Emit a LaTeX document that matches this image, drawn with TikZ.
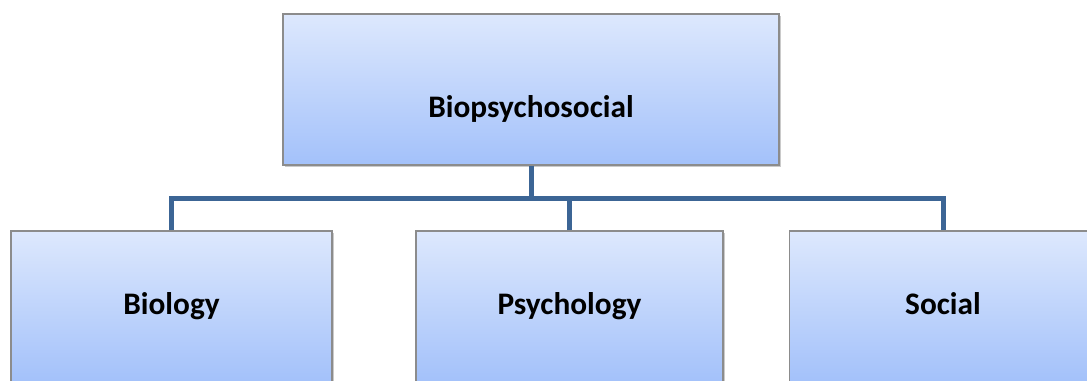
\documentclass[tikz,border=0pt]{standalone}
\usepackage{fontspec}
\setmainfont{Carlito}
\usetikzlibrary{positioning, shadows}
\definecolor{ctop}{HTML}{DDE8FD}
\definecolor{cbottom}{HTML}{A3C1FA}
\definecolor{cedge}{HTML}{8C8C8C}
\definecolor{clink}{HTML}{3C6595}
\tikzset{
  every picture/.style={font=\fontsize{23.5}{28}\selectfont\bfseries},
  box/.style={draw=cedge, line width=1pt, top color=ctop, bottom color=cbottom, inner sep=0pt,
    minimum width=#1, minimum height=113.25pt, text height=15pt, text depth=3pt,
    drop shadow={shadow xshift=1.6pt, shadow yshift=-1.6pt, opacity=0.35, fill=black!60}},
  box/.default=230pt,
  link/.style={draw=clink, line width=3.75pt, line join=miter},
}
\begin{document}
\begin{tikzpicture}[x=0.75pt, y=-0.75pt]
  \useasboundingbox (0,0) rectangle (1087,380);
  \clip (0,0) rectangle (1087,380);
  \node[box=372pt, text height=45pt] (bps) at (531,89.5) {Biopsychosocial};
  \node[box=240.75pt] (bio) at (171.5,306.5) {Biology};
  \node[box=230.25pt] (psy) at (569.5,306.5) {Psychology};
  \node[box=230.25pt] (soc) at (943,306.5) {Social};
  \coordinate (bus) at (0,198);
  \draw[link] (bps.south) -- (bps.south |- bus);
  \draw[link] (bio.north) |- (bus -| soc.north) -- (soc.north);
  \draw[link] (psy.north) -- (psy.north |- bus);
\end{tikzpicture}
\end{document}
